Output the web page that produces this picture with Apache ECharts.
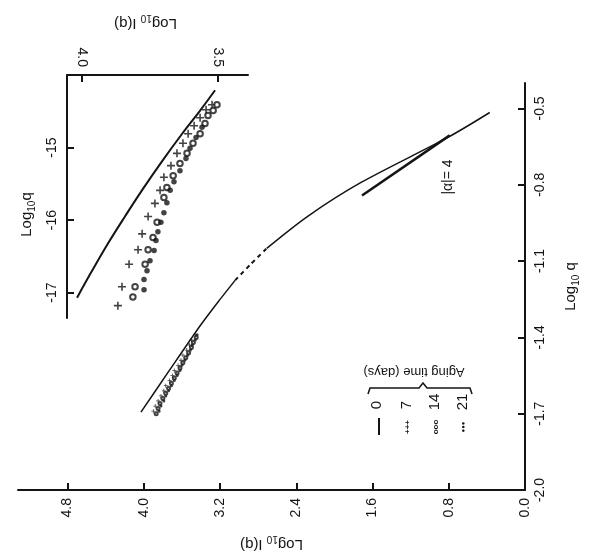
<!DOCTYPE html>
<html>
<head>
<meta charset="utf-8">
<script src="https://cdn.jsdelivr.net/npm/echarts@6/dist/echarts.min.js"></script>
<style>
  html, body { margin: 0; padding: 0; background: #fff; }
  #chart { width: 589px; height: 557px; }
</style>
</head>
<body>
<div id="chart"></div>
<script>
// main panel: log10 I(q) (horizontal, inverted) vs log10 q (vertical)
const mainITicks = [0.0, 0.8, 1.6, 2.4, 3.2, 4.0, 4.8];
const mainQTicks = [-2.0, -1.7, -1.4, -1.1, -0.8, -0.5];

// 0 days curve, split where the original is drawn dashed
const curveLowI = [4.03, 3.73, 3.42, 3.215, 3.04];
const curveLowQ = [-1.694, -1.529, -1.360, -1.258, -1.175];
const curveGapI = [3.04, 2.88, 2.71];
const curveGapQ = [-1.175, -1.113, -1.050];
const curveHighI = [2.71, 2.28, 1.72, 0.81, 0.37];
const curveHighQ = [-1.050, -0.924, -0.791, -0.614, -0.516];

// |alpha| = 4 reference slope
const alphaI = [1.71, 0.79];
const alphaQ = [-0.842, -0.606];

// aged samples, low-q end of main panel
const main7Q = [-1.69, -1.67, -1.65, -1.63, -1.61, -1.59, -1.57, -1.55, -1.53, -1.51, -1.49, -1.47, -1.45, -1.43, -1.41, -1.39];
const main7I = [3.90, 3.88, 3.85, 3.82, 3.79, 3.77, 3.73, 3.70, 3.68, 3.64, 3.61, 3.59, 3.55, 3.52, 3.50, 3.46];
const main14Q = [-1.70, -1.68, -1.66, -1.64, -1.62, -1.60, -1.58, -1.56, -1.54, -1.52, -1.50, -1.48, -1.46, -1.44, -1.42, -1.40];
const main14I = [3.87, 3.85, 3.83, 3.80, 3.77, 3.74, 3.71, 3.68, 3.65, 3.62, 3.59, 3.56, 3.53, 3.50, 3.48, 3.45];
const main21Q = [-1.69, -1.67, -1.65, -1.63, -1.61, -1.59, -1.57, -1.55, -1.53, -1.51, -1.49, -1.47, -1.45, -1.43, -1.41, -1.39];
const main21I = [3.84, 3.82, 3.79, 3.77, 3.74, 3.71, 3.68, 3.65, 3.62, 3.60, 3.57, 3.54, 3.51, 3.49, 3.46, 3.44];

// inset panel
const insetITicks = [4.0, 3.5];
const insetQTicks = [-17, -16, -15];
const insetCurveI = [4.018, 3.963, 3.904, 3.842, 3.776, 3.706, 3.632, 3.566, 3.511];
const insetCurveQ = [-17.07, -16.70, -16.32, -15.95, -15.57, -15.19, -14.81, -14.49, -14.21];
const inset7I = [3.868, 3.853, 3.827, 3.794, 3.779, 3.757, 3.732, 3.713, 3.699, 3.673, 3.651, 3.629, 3.610, 3.588, 3.566, 3.544, 3.522];
const inset7Q = [-17.18, -16.92, -16.61, -16.41, -16.19, -15.95, -15.77, -15.59, -15.41, -15.25, -15.08, -14.94, -14.81, -14.70, -14.59, -14.48, -14.41];
const inset14I = [3.813, 3.805, 3.768, 3.757, 3.739, 3.724, 3.699, 3.688, 3.665, 3.640, 3.614, 3.592, 3.566, 3.548, 3.537, 3.518, 3.504];
const inset14Q = [-17.06, -16.92, -16.61, -16.41, -16.24, -16.03, -15.69, -15.55, -15.39, -15.22, -15.08, -14.94, -14.81, -14.67, -14.56, -14.49, -14.41];
const inset21I = [3.772, 3.772, 3.761, 3.750, 3.735, 3.728, 3.721, 3.710, 3.699, 3.688, 3.676, 3.662, 3.640, 3.618, 3.603, 3.581, 3.559];
const inset21Q = [-16.96, -16.82, -16.70, -16.56, -16.42, -16.28, -16.16, -16.03, -15.90, -15.76, -15.59, -15.47, -15.32, -15.15, -15.01, -14.86, -14.72];

const agingDays = ['0', '7', '14', '21'];

const FONT = "'Liberation Sans', Arial, sans-serif";
const INK = '#141414';
const PLUS = 'path://M4,0H6V4H10V6H6V10H4V6H0V4H4Z';

const pairs = (xs, ys) => xs.map((x, i) => [x, ys[i]]);

const nameRich = {
  b: { fontSize: 15, lineHeight: 20, color: INK, fontFamily: FONT },
  s: { fontSize: 10, lineHeight: 12, verticalAlign: 'bottom', color: INK, fontFamily: FONT },
};

function axisBase(ticks, digits) {
  return {
    type: 'value',
    splitLine: { show: false },
    axisLine: { onZero: false, lineStyle: { color: INK, width: 2 } },
    axisTick: { inside: true, length: 7, customValues: ticks, lineStyle: { color: INK, width: 2 } },
    axisLabel: {
      rotate: 90, fontSize: 14, color: INK, fontFamily: FONT,
      customValues: ticks, formatter: (v) => v.toFixed(digits),
    },
  };
}

const chart = echarts.init(document.getElementById('chart'), null, { renderer: 'canvas' });

const lineStyle0 = { color: INK, width: 1.5 };
const centered = { fill: INK, align: 'center', verticalAlign: 'middle' };

const option = {
  backgroundColor: '#fff',
  animation: false,
  grid: [
    { left: 18, right: 61, top: 83, bottom: 67 },
    { left: 67, top: 75, width: 181, height: 243 },
  ],
  xAxis: [
    Object.assign(axisBase(mainITicks, 1), {
      gridIndex: 0, position: 'bottom', inverse: true, min: 0, max: 5.32,
      name: '{b|Log}{s|10}{b| I(q)}', nameLocation: 'middle', nameGap: 44, nameRotate: 180,
      nameTextStyle: { rich: nameRich },
    }),
    Object.assign(axisBase(insetITicks, 1), {
      gridIndex: 1, position: 'top', inverse: true, min: 3.39, max: 4.055,
      name: '{b|Log}{s|10}{b| I(q)}', nameLocation: 'middle', nameGap: 42, nameRotate: 180,
      nameTextStyle: { rich: nameRich, padding: [0, 0, 0, 24] },
    }),
  ],
  yAxis: [
    Object.assign(axisBase(mainQTicks, 1), {
      gridIndex: 0, position: 'right', min: -2.0, max: -0.4,
      name: '{b|Log}{s|10}{b| q}', nameLocation: 'middle', nameGap: 36, nameRotate: 90,
      nameTextStyle: { rich: nameRich },
    }),
    Object.assign(axisBase(insetQTicks, 0), {
      gridIndex: 1, position: 'left', min: -17.35, max: -14.0,
      name: '{b|Log}{s|10}{b|q}', nameLocation: 'middle', nameGap: 30, nameRotate: 90,
      nameTextStyle: { rich: nameRich, padding: [0, 36, 0, 0] },
    }),
  ],
  series: [
    { name: '0', type: 'line', xAxisIndex: 0, yAxisIndex: 0, data: pairs(curveLowI, curveLowQ),
      smooth: 0.2, showSymbol: false, lineStyle: lineStyle0 },
    { name: '0', type: 'line', xAxisIndex: 0, yAxisIndex: 0, data: pairs(curveGapI, curveGapQ),
      smooth: 0.2, showSymbol: false, lineStyle: { color: INK, width: 2, type: [4, 4] } },
    { name: '0', type: 'line', xAxisIndex: 0, yAxisIndex: 0, data: pairs(curveHighI, curveHighQ),
      smooth: 0.3, showSymbol: false, lineStyle: lineStyle0 },
    { name: 'alpha', type: 'line', xAxisIndex: 0, yAxisIndex: 0, data: pairs(alphaI, alphaQ),
      showSymbol: false, lineStyle: { color: INK, width: 2.5 } },
    { name: '7', type: 'scatter', xAxisIndex: 0, yAxisIndex: 0, data: pairs(main7I, main7Q),
      symbol: PLUS, symbolSize: 4, itemStyle: { color: INK } },
    { name: '14', type: 'scatter', xAxisIndex: 0, yAxisIndex: 0, data: pairs(main14I, main14Q),
      symbol: 'emptyCircle', symbolSize: 3, itemStyle: { color: INK, borderWidth: 1 } },
    { name: '21', type: 'scatter', xAxisIndex: 0, yAxisIndex: 0, data: pairs(main21I, main21Q),
      symbol: 'circle', symbolSize: 3, itemStyle: { color: INK } },

    { name: '0', type: 'line', xAxisIndex: 1, yAxisIndex: 1, data: pairs(insetCurveI, insetCurveQ),
      smooth: 0.4, showSymbol: false, lineStyle: { color: INK, width: 2 } },
    { name: '7', type: 'scatter', xAxisIndex: 1, yAxisIndex: 1, data: pairs(inset7I, inset7Q),
      symbol: PLUS, symbolSize: 8, itemStyle: { color: INK } },
    { name: '14', type: 'scatter', xAxisIndex: 1, yAxisIndex: 1, data: pairs(inset14I, inset14Q),
      symbol: 'emptyCircle', symbolSize: 5.5, itemStyle: { color: INK, borderWidth: 1.3 } },
    { name: '21', type: 'scatter', xAxisIndex: 1, yAxisIndex: 1, data: pairs(inset21I, inset21Q),
      symbol: 'circle', symbolSize: 5.5, itemStyle: { color: INK } },
  ],
  graphic: [
    { type: 'text', x: 448, y: 177, rotation: Math.PI / 2,
      style: Object.assign({ text: '|\u03b1|= 4', font: '14px ' + FONT }, centered) },
    // legend, drawn turned like the rest of the scan
    { type: 'text', x: 414, y: 372, rotation: Math.PI,
      style: Object.assign({ text: 'Aging time (days)', font: '13px ' + FONT }, centered) },
    { type: 'polyline', shape: { points: [[368, 394], [370, 388], [419, 388], [423, 383], [427, 388], [470, 388], [472, 394]] },
      style: { stroke: INK, lineWidth: 1.5, fill: null } },
    { type: 'text', x: 377, y: 405, rotation: Math.PI / 2,
      style: Object.assign({ text: agingDays[0], font: '15px ' + FONT }, centered) },
    { type: 'text', x: 407, y: 405, rotation: Math.PI / 2,
      style: Object.assign({ text: agingDays[1], font: '15px ' + FONT }, centered) },
    { type: 'text', x: 435, y: 402, rotation: Math.PI / 2,
      style: Object.assign({ text: agingDays[2], font: '15px ' + FONT }, centered) },
    { type: 'text', x: 463, y: 402, rotation: Math.PI / 2,
      style: Object.assign({ text: agingDays[3], font: '15px ' + FONT }, centered) },
    { type: 'line', shape: { x1: 379, y1: 418, x2: 379, y2: 435 }, style: { stroke: INK, lineWidth: 2 } },
    { type: 'text', x: 408, y: 427, rotation: Math.PI / 2,
      style: Object.assign({ text: '+++', font: 'bold 8px ' + FONT }, centered) },
    { type: 'text', x: 436, y: 427, rotation: Math.PI / 2,
      style: Object.assign({ text: 'ooo', font: 'bold 8px ' + FONT }, centered) },
    { type: 'text', x: 463, y: 427, rotation: Math.PI / 2,
      style: Object.assign({ text: '\u25cf\u25cf\u25cf', font: '6px ' + FONT }, centered) },
  ],
};

chart.setOption(option);
window.addEventListener('resize', () => chart.resize());
</script>
</body>
</html>
